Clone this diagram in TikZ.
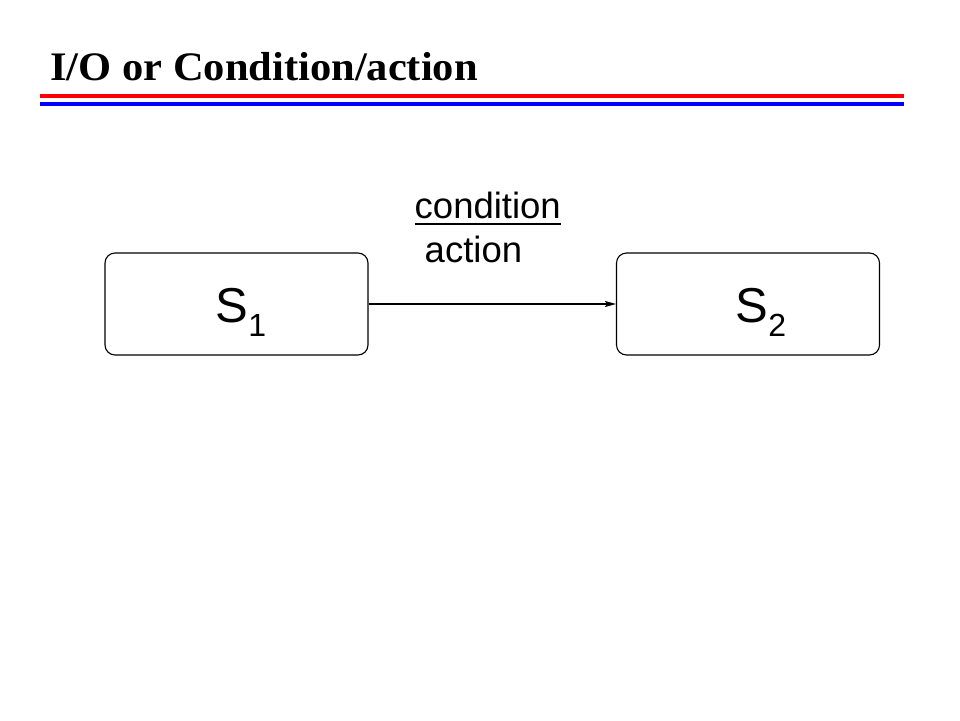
\documentclass[tikz,border=0pt]{standalone}
\usepackage{fontspec}
\setmainfont{Liberation Sans}
\newfontfamily\arialf{Liberation Sans}
\newfontfamily\timesf{Liberation Serif}
\usetikzlibrary{arrows.meta}
\definecolor{tred}{RGB}{255,0,0}
\definecolor{tblue}{RGB}{0,0,255}
\tikzset{
  statebox/.style={draw=black, line width=1.1pt, rounded corners=10pt, minimum width=263pt, minimum height=102pt, inner sep=0pt},
  statetext/.style={inner sep=0pt, font=\arialf\fontsize{49}{49}\selectfont},
  lbl/.style={inner sep=0pt, font=\arialf\fontsize{36.5}{40}\selectfont},
  conn/.style={line width=1.1pt, -{Stealth[length=11pt,width=6pt,inset=2pt]}},
}
\newcommand{\subfont}{\fontsize{32}{32}\selectfont}
\begin{document}
\begin{tikzpicture}[x=1pt,y=-1pt]
\useasboundingbox (0,0) rectangle (960,720);
\fill[white] (0,0) rectangle (960,720);
% title
\node[inner sep=0pt, anchor=base west, font=\timesf\bfseries\fontsize{40.5}{48}\selectfont] (title) at (50,80) {\scalebox{1.05}[1]{I/O or Condition/action}};
\coordinate (rl) at (40,95.5);
\coordinate (rr) at (904,95.5);
\coordinate (bl) at (40,103.5);
\coordinate (br) at (904,103.5);
\draw[tred, line width=4pt] (rl) -- (rr);
\draw[tblue, line width=4pt] (bl) -- (br);
% states
\node[statebox] (s1) at (236.5,304) {};
\node[statebox] (s2) at (748,304) {};
\node[statetext, anchor=base west] (s1t) at (215.5,322) {S\raisebox{-14pt}{\subfont 1}};
\node[statetext, anchor=base west] (s2t) at (735.5,322) {S\raisebox{-14pt}{\subfont 2}};
% transition
\draw[conn] (s1) -- (s2);
\node[lbl, anchor=base west] (cond) at (414.5,218) {condition};
\draw[line width=2.5pt] ([yshift=-6pt]cond.base west) -- ([yshift=-6pt]cond.base east);
\node[lbl, anchor=base west] (act) at (424.5,262) {action};
\end{tikzpicture}
\end{document}
